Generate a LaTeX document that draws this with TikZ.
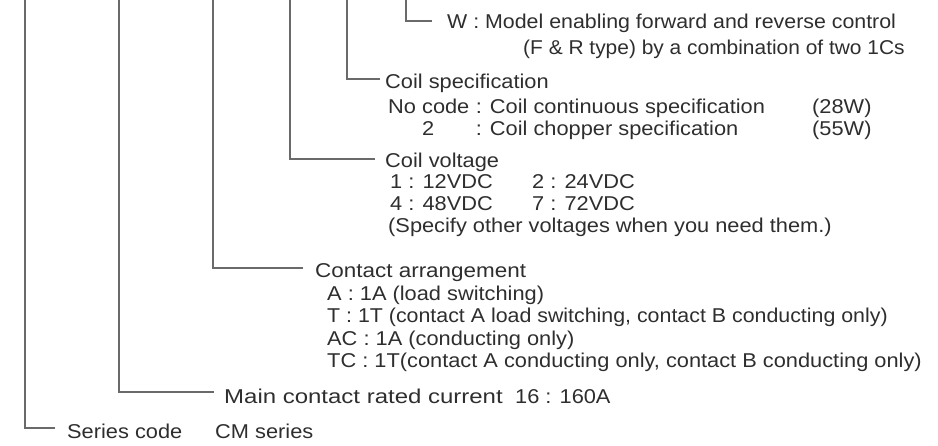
\documentclass[tikz,border=0pt]{standalone}
\usepackage{fontspec}
\setmainfont[FakeStretch=1.09]{Liberation Sans}
\definecolor{txt}{HTML}{2E2E2E}
\definecolor{ln}{HTML}{6A6A6A}
\begin{document}
\begin{tikzpicture}[x=1pt,y=-1pt,
  lbl/.style={anchor=base west,inner sep=0pt,text=txt,font=\fontsize{20}{24}\selectfont},
  lead/.style={draw=ln,line width=1.2pt}]
\useasboundingbox (0,0) rectangle (938,445);
% W
\node[lbl] (w1) at (447,28) {\scalebox{0.98}[1]{W : Model enabling forward and reverse control}};
\node[lbl] (w2) at (523,54) {\scalebox{0.96}[1]{(F \& R type) by a combination of two 1Cs}};
% Coil specification
\node[lbl] (cs) at (385,88) {Coil specification};
\node[lbl] (nc) at (388,113) {No code};
\node[lbl] (ncd) at ([xshift=6pt]nc.base east) {: Coil continuous specification};
\node[lbl] (two) at (422,135) {2};
\node[lbl] (chd) at (ncd.base west |- two.base) {: Coil chopper specification};
\node[lbl] (w28) at (812,113) {(28W)};
\node[lbl] (w55) at (812,135) {(55W)};
% Coil voltage
\node[lbl] (cv) at (385,167) {Coil voltage};
\node[lbl] (v1) at (390,188) {1 : 12VDC};
\node[lbl] (v2) at (532,188) {2 : 24VDC};
\node[lbl] (v4) at (390,210) {4 : 48VDC};
\node[lbl] (v7) at (532,210) {7 : 72VDC};
\node[lbl] (vs) at (388,232) {(Specify other voltages when you need them.)};
% Contact arrangement
\node[lbl] (ca) at (315,277) {\scalebox{1.03}[1]{Contact arrangement}};
\node[lbl] (ca1) at (327,300) {A : 1A (load switching)};
\node[lbl] (ca2) at (327,322.5) {\scalebox{0.98}[1]{T : 1T (contact A load switching, contact B conducting only)}};
\node[lbl] (ca3) at (327,345) {AC : 1A (conducting only)};
\node[lbl] (ca4) at (327,367) {TC : 1T(contact A conducting only, contact B conducting only)};
% Main contact
\node[lbl] (mc) at (224,403) {\scalebox{1.1}[1]{Main contact rated current}};
\node[lbl] (mcv) at (515,403) {16 : 160A};
% Series
\node[lbl] (sc) at (67,438) {Series code};
\node[lbl] (scv) at (215,438) {CM series};
% connectors
\coordinate (tW) at (406,0);   \coordinate (eW) at (432,21);
\coordinate (tS) at (347,0);   \coordinate (eS) at (380,79);
\coordinate (tV) at (290,0);   \coordinate (eV) at (375,159);
\coordinate (tA) at (213,0);   \coordinate (eA) at (303,268);
\coordinate (tM) at (119,0);   \coordinate (eM) at (214,392);
\coordinate (tC) at (25,0);    \coordinate (eC) at (55,428);
\draw[lead] (tW) |- (eW);
\draw[lead] (tS) |- (eS);
\draw[lead] (tV) |- (eV);
\draw[lead] (tA) |- (eA);
\draw[lead] (tM) |- (eM);
\draw[lead] (tC) |- (eC);
\end{tikzpicture}
\end{document}
